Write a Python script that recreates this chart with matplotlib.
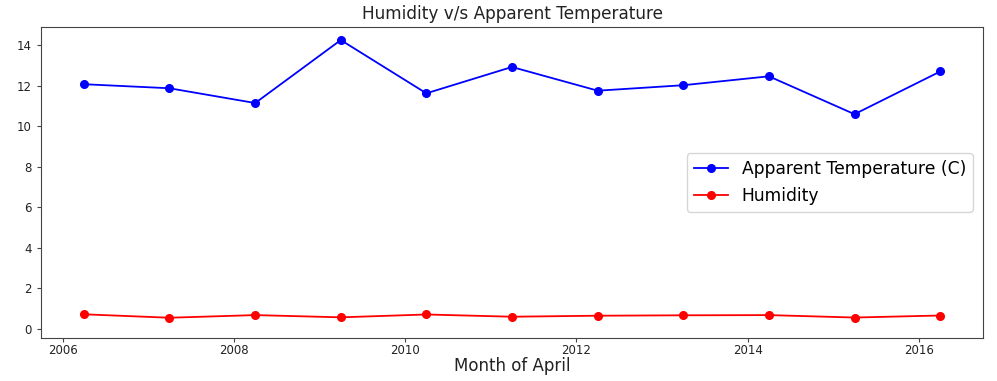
import matplotlib
matplotlib.use("Agg")
import matplotlib.pyplot as plt
import pandas as pd

years = list(range(2006, 2017))
apparent_temp = [12.08, 11.88, 11.15, 14.26, 11.63, 12.93, 11.76, 12.03, 12.47, 10.60, 12.71]
humidity = [0.72, 0.55, 0.68, 0.57, 0.71, 0.60, 0.65, 0.67, 0.68, 0.56, 0.66]
dates = pd.to_datetime([f"{y}-04-01" for y in years])

fig = plt.figure(figsize=(9.97, 3.81), dpi=100)
ax = fig.add_axes([0.0411, 0.1129, 0.945, 0.816])
ax.plot(dates, apparent_temp, color="blue", marker="o", lw=1.3, ms=5.5,
        label="Apparent Temperature (C)")
ax.plot(dates, humidity, color="red", marker="o", lw=1.3, ms=5.5, label="Humidity")
ax.set_ylim(-0.45, 14.9)
for s in ax.spines.values():
    s.set_color("#444444")
    s.set_linewidth(0.8)
ax.tick_params(labelsize=8.5, colors="#444444", labelcolor="#222222", length=3)
ax.tick_params(axis="x", pad=1.5)
ax.set_title("Humidity v/s Apparent Temperature", fontsize=12.2, color="#222222", pad=6)
ax.set_xlabel("Month of April", fontsize=12, color="#222222", labelpad=0)
leg = ax.legend(loc="center right", fontsize=12.3, borderaxespad=0.6)
fig.savefig("out.png", dpi=100)
